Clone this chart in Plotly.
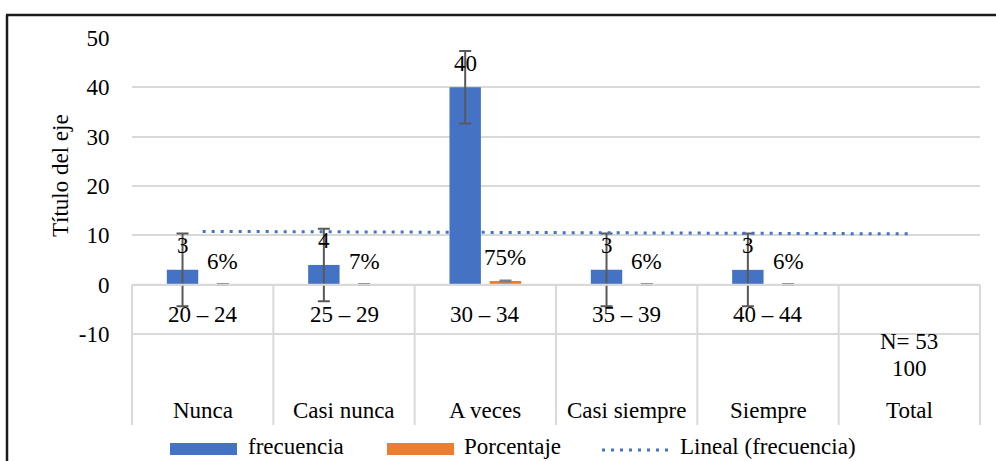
import numpy as np
import plotly.graph_objects as go

# ---- data -----------------------------------------------------------------
categorias = ["Nunca", "Casi nunca", "A veces", "Casi siempre", "Siempre", "Total"]
rangos = ["20 – 24", "25 – 29", "30 – 34", "35 – 39", "40 – 44", ""]
frecuencia = [3, 4, 40, 3, 3]
porcentaje = [0.06, 0.07, 0.75, 0.06, 0.06]
etiquetas_pct = ["6%", "7%", "75%", "6%", "6%"]
total_lineas = ["N= 53", "100"]
y_ticks = [-10, 0, 10, 20, 30, 40, 50]
y_ticktext = ["-10", "0", "10", "20", "30", "40", "50"]

# ---- derived series (standard error bars + linear trend) --------------------
n = len(frecuencia)
se_frec = float(np.std(frecuencia, ddof=1) / np.sqrt(n))
se_pct = float(np.std(porcentaje, ddof=1) / np.sqrt(n))
x_idx = np.arange(1, n + 1)
pend, inter = np.polyfit(x_idx, frecuencia, 1)
tend_x = np.arange(1, len(categorias) + 1)
tendencia = pend * tend_x + inter

# ---- geometry ---------------------------------------------------------------
W, H = 996, 461
ML, MR, MT, MB = 132, 16, 38, 127
PW, PH = W - ML - MR, H - MT - MB
Y0, Y1 = -10, 50


def px_x(px):
    return (px - ML) / PW


def px_y(py):
    return (H - MB - py) / PH


def dom_y(v):
    return (v - Y0) / (Y1 - Y0)


FONT = "Liberation Serif, Times New Roman, serif"
AZUL = "#4472C4"
NARANJA = "#ED7D31"
GRIS = "#D9D9D9"
TXT = "#000000"

fig = go.Figure()

fig.add_trace(go.Bar(
    x=categorias[:n], y=frecuencia, name="frecuencia",
    marker=dict(color=AZUL, line=dict(width=0)),
    error_y=dict(type="data", array=[se_frec] * n, color="#595959",
                 thickness=2, width=6),
))
fig.add_trace(go.Bar(
    x=categorias[:n], y=porcentaje, name="Porcentaje",
    marker=dict(color=NARANJA, line=dict(width=0)),
    error_y=dict(type="data", array=[se_pct] * n, color="#7F7F7F",
                 thickness=1.5, width=6),
))
fig.add_trace(go.Scatter(
    x=categorias, y=tendencia, mode="lines", name="Lineal (frecuencia)",
    line=dict(color=AZUL, width=3, dash="3px,6px"),
))

shapes = []
# category table below the zero line
for v in (0, -10):
    shapes.append(dict(type="line", xref="x domain", yref="y domain",
                       x0=0, x1=1, y0=dom_y(v), y1=dom_y(v),
                       line=dict(color=GRIS, width=2)))
for i in range(len(categorias) + 1):
    xd = i / len(categorias)
    shapes.append(dict(type="line", xref="x domain", yref="y domain",
                       x0=xd, x1=xd, y0=dom_y(0), y1=px_y(425),
                       line=dict(color=GRIS, width=2)))

# legend swatches
ly0, ly1 = px_y(443), px_y(455)
shapes.append(dict(type="rect", xref="paper", yref="paper",
                   x0=px_x(170), x1=px_x(237), y0=ly0, y1=ly1,
                   fillcolor=AZUL, line=dict(width=0)))
shapes.append(dict(type="rect", xref="paper", yref="paper",
                   x0=px_x(387), x1=px_x(454), y0=ly0, y1=ly1,
                   fillcolor=NARANJA, line=dict(width=0)))
shapes.append(dict(type="line", xref="paper", yref="paper",
                   x0=px_x(602), x1=px_x(668), y0=px_y(450), y1=px_y(450),
                   line=dict(color=AZUL, width=3, dash="3px,6px")))

# chart frame
shapes.append(dict(type="line", xref="paper", yref="paper",
                   x0=px_x(6), x1=px_x(996), y0=px_y(15), y1=px_y(15),
                   line=dict(color="#1A1A1A", width=2.5)))
shapes.append(dict(type="line", xref="paper", yref="paper",
                   x0=px_x(7), x1=px_x(7), y0=px_y(15), y1=px_y(461),
                   line=dict(color="#1A1A1A", width=2.5)))

ann = []
f23 = dict(family=FONT, size=23, color=TXT)

# value labels
for c, v in zip(categorias, frecuencia):
    ann.append(dict(x=c, y=v, xref="x", yref="y", text=str(v), showarrow=False,
                    xshift=-20, yshift=24, yanchor="middle", font=f23))
for c, v, t in zip(categorias, porcentaje, etiquetas_pct):
    ann.append(dict(x=c, y=v, xref="x", yref="y", text=t, showarrow=False,
                    xshift=20, yshift=23, yanchor="middle", font=f23))

# two-level category labels
for c, r in zip(categorias, rangos):
    if r:
        ann.append(dict(x=c, y=px_y(314), xref="x", yref="paper", text=r,
                        showarrow=False, yanchor="middle", font=f23))
    ann.append(dict(x=c, y=px_y(410), xref="x", yref="paper", text=c,
                    showarrow=False, yanchor="middle", font=f23))
for ypx, t in zip((341, 368), total_lineas):
    ann.append(dict(x=categorias[-1], y=px_y(ypx), xref="x", yref="paper",
                    text=t, showarrow=False, yanchor="middle", font=f23))

# axis title
ann.append(dict(x=px_x(60), y=px_y(176), xref="paper", yref="paper",
                text="Título del eje", textangle=-90, showarrow=False,
                xanchor="center", yanchor="middle", font=f23))

# legend texts
for xpx, t in ((246, "frecuencia"), (462, "Porcentaje"), (678, "Lineal (frecuencia)")):
    ann.append(dict(x=px_x(xpx), y=px_y(446), xref="paper", yref="paper",
                    text=t, showarrow=False, xanchor="left", yanchor="middle",
                    font=f23))

fig.update_layout(
    width=W, height=H,
    margin=dict(l=ML, r=MR, t=MT, b=MB, pad=0),
    paper_bgcolor="white", plot_bgcolor="white",
    barmode="group", bargap=0.43, bargroupgap=0.22,
    showlegend=False,
    shapes=shapes, annotations=ann,
    font=dict(family=FONT, size=23, color=TXT),
    xaxis=dict(type="category", categoryorder="array", categoryarray=categorias,
               range=[-0.5, len(categorias) - 0.5], showticklabels=False,
               showgrid=False, zeroline=False, showline=False, ticks=""),
    yaxis=dict(range=[Y0, Y1], tickvals=y_ticks, ticktext=y_ticktext,
               showgrid=True, gridcolor=GRIS,
               gridwidth=2, zeroline=False, showline=False, ticks="outside",
               ticklen=17, tickcolor="rgba(0,0,0,0)",
               tickfont=dict(family=FONT, size=23, color=TXT)),
)

fig.write_html("out.html")
